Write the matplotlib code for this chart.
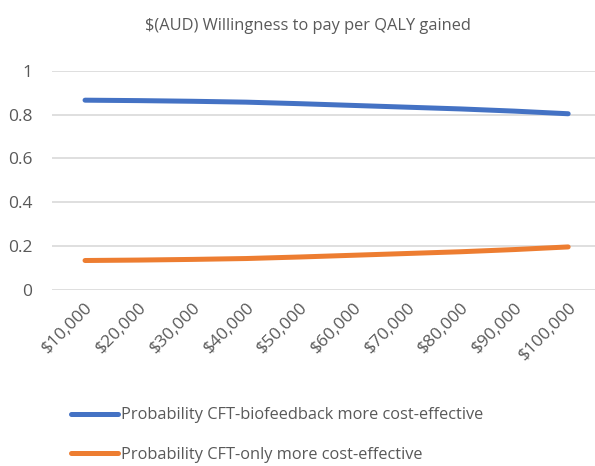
import matplotlib
matplotlib.use('Agg')
from matplotlib import pyplot as plt

# willingness to pay thresholds and probabilities
wtp_labels = ['$10,000', '$20,000', '$30,000', '$40,000', '$50,000',
              '$60,000', '$70,000', '$80,000', '$90,000', '$100,000']
prob_biofeedback = [0.866, 0.864, 0.861, 0.857, 0.850, 0.842, 0.834, 0.826, 0.816, 0.804]
prob_cft_only = [0.134, 0.136, 0.139, 0.143, 0.150, 0.158, 0.166, 0.174, 0.184, 0.196]
series_names = ['Probability CFT-biofeedback more cost-effective',
                'Probability CFT-only more cost-effective']

plt.rcParams['font.family'] = ['Open Sans', 'DejaVu Sans']
text_grey = '#595959'

fig = plt.figure(figsize=(5.95, 4.66), dpi=100)
ax = fig.add_axes([0.087, 0.378, 0.913, 0.47])

x = list(range(len(wtp_labels)))
ax.plot(x, prob_biofeedback, color='#4472C4', lw=3.6, solid_capstyle='round', label=series_names[0])
ax.plot(x, prob_cft_only, color='#ED7D31', lw=3.6, solid_capstyle='round', label=series_names[1])

ax.set_ylim(0, 1)
ax.set_xlim(-0.62, 9.5)
ax.set_yticks([0, 0.2, 0.4, 0.6, 0.8, 1])
ax.set_yticklabels(['0', '0.2', '0.4', '0.6', '0.8', '1'])
ax.set_xticks(x)
ax.set_xticklabels(wtp_labels, rotation=45, ha='right', rotation_mode='anchor')
ax.tick_params(axis='both', length=0, labelsize=12.5, colors=text_grey)
ax.tick_params(axis='y', pad=14)
ax.tick_params(axis='x', pad=7)
ax.grid(axis='y', color='#D9D9D9', lw=1.2)
ax.set_axisbelow(True)
for s in ax.spines.values():
    s.set_visible(False)

fig.text(0.517, 0.945, '$(AUD) Willingness to pay per QALY gained', ha='center', va='center',
         fontsize=11.8, color=text_grey)

fig.legend(loc='upper left', bbox_to_anchor=(0.108, 0.14), frameon=False, fontsize=11.8,
           handlelength=2.9, handletextpad=0.15, labelspacing=1.45, labelcolor=text_grey,
           borderaxespad=0)

fig.savefig('out.png', dpi=100)
